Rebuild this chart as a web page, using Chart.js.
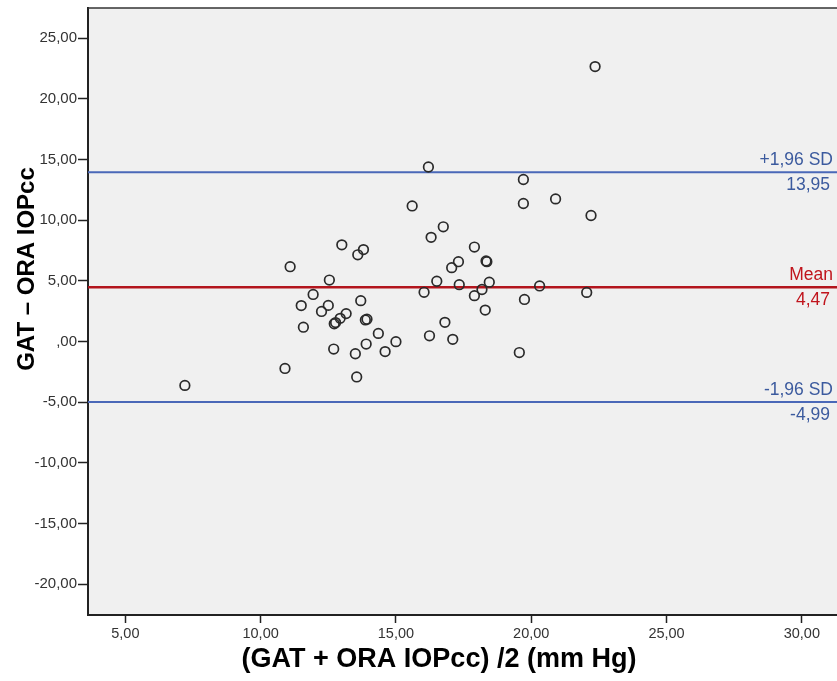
<!DOCTYPE html>
<html>
<head>
<meta charset="utf-8">
<script src="https://cdn.jsdelivr.net/npm/chart.js@4"></script>
<style>
  html, body { margin: 0; padding: 0; background: #fff; }
  canvas { display: block; }
</style>
</head>
<body>
<canvas id="baChart" width="837" height="681"></canvas>
<script>
// mean of the two methods (x) and their difference (y), one entry per eye
const meanVals = [16.20, 19.71, 19.71, 20.90, 15.60, 16.75, 16.30, 13.00, 13.80, 13.59,
                  17.90, 11.09, 18.33, 18.36, 17.31, 17.06, 12.54, 16.51, 17.34, 18.45,
                  20.31, 16.04, 18.18, 17.90, 11.94, 11.50, 12.50, 12.25, 13.70, 13.16,
                  12.94, 12.77, 12.72, 13.93, 13.87, 19.75, 18.30, 11.58, 14.35, 16.81,
                  16.24, 17.10, 15.00, 13.90, 12.70, 13.50, 14.60, 19.56, 10.90, 13.55,
                  7.20, 22.05, 22.21, 22.36];
const diffVals = [14.39, 13.36, 11.38, 11.76, 11.18, 9.46, 8.59, 7.97, 7.58, 7.15,
                  7.79, 6.17, 6.64, 6.58, 6.58, 6.09, 5.07, 4.97, 4.69, 4.89,
                  4.58, 4.06, 4.29, 3.78, 3.88, 2.96, 2.98, 2.48, 3.37, 2.30,
                  1.91, 1.56, 1.46, 1.84, 1.78, 3.47, 2.59, 1.18, 0.67, 1.58,
                  0.47, 0.18, -0.01, -0.21, -0.62, -1.01, -0.83, -0.91, -2.22, -2.92,
                  -3.62, 4.05, 10.39, 22.67];

// limits of agreement and mean difference
const refValues = [13.95, 4.47, -4.99];
const refNames = ["+1,96 SD", "Mean", "-1,96 SD"];
const refLabels = ["13,95", "4,47", "-4,99"];
const refColors = ["#4a68b8", "#b3151d", "#4a68b8"];
const refTextColors = ["#3b5a9e", "#c0141c", "#3b5a9e"];

const xTicks = [5, 10, 15, 20, 25, 30];
const yTicks = [-20, -15, -10, -5, 0, 5, 10, 15, 20, 25];
const xMin = 3.62, xMax = 31.3;
const yMin = -22.55, yMax = 27.5;

const xTitle = "(GAT + ORA IOPcc) /2 (mm Hg)";
const yTitle = "GAT \u2013 ORA IOPcc";

function fmt(v) {
    if (v === 0) return ",00";
    return v.toFixed(2).replace(".", ",");
}

const points = meanVals.map((m, i) => ({ x: m, y: diffVals[i] }));

const refSets = refValues.map((v, i) => ({
    label: refNames[i],
    data: [{ x: xMin, y: v }, { x: xMax, y: v }],
    showLine: true,
    borderColor: refColors[i],
    borderWidth: i === 1 ? 2.5 : 2,
    pointRadius: 0,
    fill: false,
}));

const plotBg = {
    id: "plotBg",
    beforeDraw(chart) {
        const { ctx, chartArea: a } = chart;
        ctx.save();
        ctx.fillStyle = "#fff";
        ctx.fillRect(0, 0, chart.width, chart.height);
        ctx.fillStyle = "#f0f0f0";
        ctx.fillRect(a.left, a.top, a.right - a.left, a.bottom - a.top);
        ctx.restore();
    },
    afterDraw(chart) {
        const { ctx, chartArea: a } = chart;
        ctx.save();
        // top frame line
        ctx.strokeStyle = "#333";
        ctx.lineWidth = 1.5;
        ctx.beginPath();
        ctx.moveTo(a.left, a.top);
        ctx.lineTo(a.right, a.top);
        ctx.stroke();

        // axis titles
        ctx.fillStyle = "#000";
        ctx.font = "bold 27px 'Liberation Sans', Arial, sans-serif";
        ctx.textAlign = "center";
        ctx.textBaseline = "alphabetic";
        ctx.fillText(xTitle, 439, 667);

        ctx.font = "bold 24px 'Liberation Sans', Arial, sans-serif";
        ctx.translate(34, 269);
        ctx.rotate(-Math.PI / 2);
        ctx.fillText(yTitle, 0, 0);
        ctx.restore();
    },
};

const refText = {
    id: "refText",
    afterDatasetsDraw(chart) {
        const { ctx } = chart;
        const ys = chart.scales.y;
        ctx.save();
        ctx.font = "17.5px 'Liberation Sans', Arial, sans-serif";
        ctx.textAlign = "right";
        ctx.textBaseline = "alphabetic";
        refValues.forEach((v, i) => {
            const py = ys.getPixelForValue(v);
            ctx.fillStyle = refTextColors[i];
            ctx.fillText(refNames[i], 833, py - 7.5);
            ctx.fillText(refLabels[i], 830, py + 18);
        });
        ctx.restore();
    },
};

new Chart(document.getElementById("baChart"), {
    type: "scatter",
    data: {
        datasets: [
            {
                label: "Difference",
                data: points,
                pointStyle: "circle",
                pointRadius: 4.8,
                pointBorderWidth: 1.7,
                borderColor: "#2a2a2a",
                backgroundColor: "rgba(0,0,0,0)",
            },
            ...refSets,
        ],
    },
    options: {
        responsive: false,
        animation: false,
        layout: { autoPadding: false, padding: { top: 8, right: 0, left: 0, bottom: 0 } },
        plugins: {
            legend: { display: false },
            tooltip: { enabled: false },
        },
        scales: {
            x: {
                type: "linear",
                min: xMin,
                max: xMax,
                afterBuildTicks: (s) => { s.ticks = xTicks.map(v => ({ value: v })); },
                afterFit: (s) => { s.height = 66; s.paddingLeft = 0; s.paddingRight = 0; },
                ticks: {
                    callback: fmt,
                    color: "#333",
                    font: { family: "'Liberation Sans', Arial, sans-serif", size: 14.5 },
                    padding: 2,
                    maxRotation: 0,
                },
                grid: { drawOnChartArea: false, drawTicks: true, tickLength: 8, tickColor: "#222", tickWidth: 1.5 },
                border: { color: "#222", width: 2 },
            },
            y: {
                type: "linear",
                min: yMin,
                max: yMax,
                afterBuildTicks: (s) => { s.ticks = yTicks.map(v => ({ value: v })); },
                afterFit: (s) => { s.width = 88; s.paddingTop = 0; s.paddingBottom = 0; },
                ticks: {
                    callback: fmt,
                    color: "#333",
                    font: { family: "'Liberation Sans', Arial, sans-serif", size: 15 },
                    padding: 1,
                },
                grid: { drawOnChartArea: false, drawTicks: true, tickLength: 10, tickColor: "#222", tickWidth: 1.5 },
                border: { color: "#222", width: 2 },
            },
        },
    },
    plugins: [plotBg, refText],
});
</script>
</body>
</html>
